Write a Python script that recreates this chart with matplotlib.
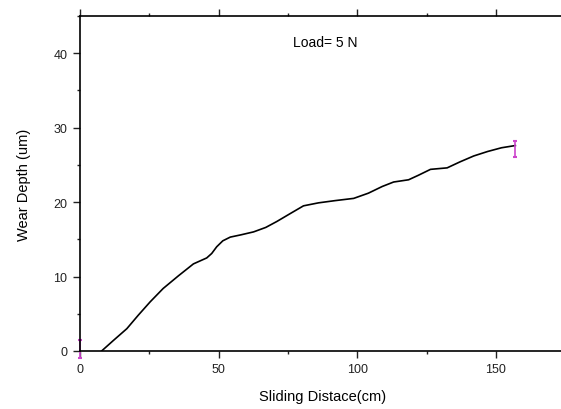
import matplotlib.pyplot as plt
from matplotlib.ticker import MultipleLocator

plt.rcParams['font.family'] = ['Liberation Sans', 'DejaVu Sans']

# wear curve
dist = [7.8, 12, 16.9, 21, 25.3, 30, 35.5, 40.9, 45.7, 47.5, 49.3, 51.5, 54.2, 58,
        62.6, 67, 71.0, 76, 80.6, 86, 92, 98.7, 104, 109, 113.1, 118.5, 122,
        126.4, 132.4, 137, 142.0, 147, 152, 157.0]
depth = [0.0, 1.4, 3.0, 4.8, 6.6, 8.4, 10.1, 11.7, 12.5, 13.1, 14.0, 14.8, 15.3, 15.6,
         16.0, 16.6, 17.4, 18.5, 19.5, 19.9, 20.2, 20.5, 21.2, 22.1, 22.7, 23.0, 23.6,
         24.4, 24.6, 25.4, 26.2, 26.8, 27.3, 27.6]

# pink error bars
err_x = [0, 157]
err_y = [0, 27.6]
err_lo = [1.0, 1.6]
err_hi = [1.5, 0.6]

fig = plt.figure(figsize=(5.61, 4.10), dpi=100)
ax = fig.add_axes([0.1426, 0.1415, 0.865, 0.817])

ax.plot(dist, depth, color='black', lw=1.2)
eb = ax.errorbar(err_x, err_y, yerr=[err_lo, err_hi], fmt='none', ecolor='#cc44cc',
                 elinewidth=1.2, capsize=1.5, capthick=1.5)
for art in eb.get_children():
    art.set_clip_on(False)

ax.set_xlim(0, 175)
ax.set_ylim(0, 45)
ax.xaxis.set_major_locator(MultipleLocator(50))
ax.xaxis.set_minor_locator(MultipleLocator(25))
ax.yaxis.set_major_locator(MultipleLocator(10))
ax.yaxis.set_minor_locator(MultipleLocator(5))
ax.tick_params(which='both', direction='out', top=True, right=False,
               labelsize=9, colors='#222222', width=1)
ax.tick_params(which='major', length=5, pad=4)
ax.tick_params(which='minor', length=2.5)
for s in ['left', 'bottom', 'top']:
    ax.spines[s].set_linewidth(1.2)
ax.spines['right'].set_visible(False)

ax.set_xlabel('Sliding Distace(cm)', fontsize=10.5, labelpad=10)
ax.set_ylabel('Wear Depth (um)', fontsize=10.5, labelpad=16)
ax.text(88.4, 41.5, 'Load= 5 N', fontsize=10, ha='center', va='center')

fig.savefig('out.png', dpi=100)
